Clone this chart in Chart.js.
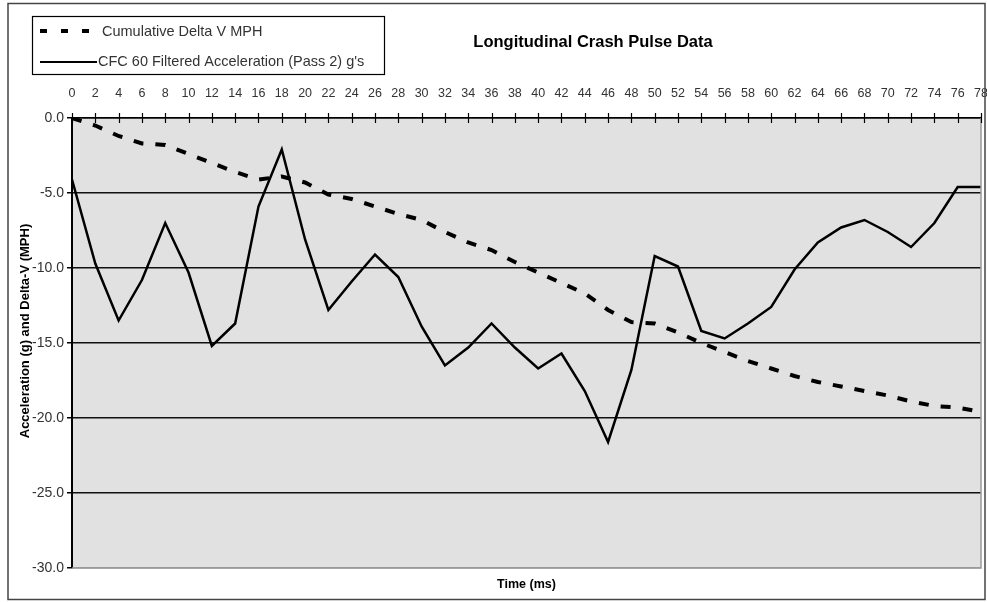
<!DOCTYPE html>
<html>
<head>
<meta charset="utf-8">
<title>Longitudinal Crash Pulse Data</title>
<script src="https://cdn.jsdelivr.net/npm/chart.js@4.4.1/dist/chart.umd.min.js"></script>
<style>
  html, body { margin: 0; padding: 0; background: #fff; }
  #wrap { width: 987px; height: 602px; position: relative; }
</style>
</head>
<body>
<div id="wrap"><canvas id="crashChart" width="987" height="602"></canvas></div>
<script>
// Time axis (ms), one sample every 2 ms
const timeLabels = ['0','2','4','6','8','10','12','14','16','18','20','22','24','26','28','30','32','34','36','38',
  '40','42','44','46','48','50','52','54','56','58','60','62','64','66','68','70','72','74','76','78'];

// Cumulative Delta V (MPH)
const deltaV = [0.0, -0.5, -1.2, -1.7, -1.8, -2.4, -3.0, -3.6, -4.1, -3.9, -4.3, -5.1, -5.4, -5.9, -6.4, -6.8, -7.6, -8.3, -8.8, -9.6,
  -10.3, -11.0, -11.7, -12.8, -13.6, -13.7, -14.3, -15.0, -15.6, -16.2, -16.7, -17.2, -17.6, -17.9, -18.2, -18.5, -18.9, -19.2, -19.3, -19.6];

// CFC 60 filtered acceleration, pass 2 (g)
const accel = [-4.1, -9.7, -13.5, -10.8, -7.0, -10.3, -15.2, -13.7, -5.9, -2.1, -8.1, -12.8, -10.9, -9.1, -10.6, -13.9, -16.5, -15.3, -13.7, -15.3,
  -16.7, -15.7, -18.2, -21.6, -16.8, -9.2, -9.9, -14.2, -14.7, -13.7, -12.6, -10.1, -8.3, -7.3, -6.8, -7.6, -8.6, -7.0, -4.6, -4.6];

const yTicks = [0, -5, -10, -15, -20, -25, -30];

const seriesNames = ['Cumulative Delta V MPH', 'CFC 60 Filtered Acceleration (Pass 2) g\'s'];
const chartTitle = 'Longitudinal Crash Pulse Data';
const xTitle = 'Time (ms)';
const yTitle = 'Acceleration (g) and Delta-V (MPH)';

const FONT = '"Liberation Sans", Arial, sans-serif';

// background, borders, legend box and titles drawn around the chart
const decorPlugin = {
  id: 'decor',
  beforeDraw(chart) {
    const ctx = chart.ctx;
    const a = chart.chartArea;
    ctx.save();
    ctx.fillStyle = '#ffffff';
    ctx.fillRect(0, 0, chart.width, chart.height);
    ctx.fillStyle = '#e1e1e1';
    ctx.fillRect(a.left, a.top, a.right - a.left, a.bottom - a.top);
    ctx.restore();
  },
  afterDraw(chart) {
    const ctx = chart.ctx;
    const a = chart.chartArea;
    const xs = chart.scales.x;
    ctx.save();

    // right and bottom edge of plot
    ctx.strokeStyle = '#9a9a9a';
    ctx.lineWidth = 1.5;
    ctx.beginPath();
    ctx.moveTo(a.right, a.top);
    ctx.lineTo(a.right, a.bottom);
    ctx.lineTo(a.left, a.bottom);
    ctx.stroke();

    // cross tick marks on the top axis
    ctx.strokeStyle = '#000';
    ctx.lineWidth = 1.2;
    ctx.beginPath();
    xs.ticks.forEach((t, i) => {
      const px = Math.round(xs.getPixelForTick(i)) + 0.5;
      ctx.moveTo(px, a.top - 5);
      ctx.lineTo(px, a.top + 5);
    });
    ctx.stroke();

    // outer frame
    ctx.strokeStyle = '#444';
    ctx.lineWidth = 1.5;
    ctx.strokeRect(8, 3.5, 977, 596);

    // legend box
    ctx.strokeStyle = '#000';
    ctx.lineWidth = 1.2;
    ctx.strokeRect(32.5, 16.5, 352, 58);
    ctx.lineCap = 'butt';
    ctx.lineWidth = 4;
    ctx.setLineDash([7, 14]);
    ctx.beginPath();
    ctx.moveTo(40, 31);
    ctx.lineTo(96, 31);
    ctx.stroke();
    ctx.setLineDash([]);
    ctx.lineWidth = 2;
    ctx.beginPath();
    ctx.moveTo(40, 62);
    ctx.lineTo(97, 62);
    ctx.stroke();

    ctx.fillStyle = '#333';
    ctx.font = '14.5px ' + FONT;
    ctx.textBaseline = 'middle';
    ctx.textAlign = 'left';
    ctx.fillText(seriesNames[0], 102, 32);
    ctx.fillText(seriesNames[1], 98, 62);

    // chart title
    ctx.fillStyle = '#000';
    ctx.font = 'bold 16.5px ' + FONT;
    ctx.textAlign = 'center';
    ctx.fillText(chartTitle, 593, 42);

    // axis titles
    ctx.font = 'bold 12.5px ' + FONT;
    ctx.fillText(xTitle, (a.left + a.right) / 2, 585);
    ctx.save();
    ctx.translate(25, 331);
    ctx.rotate(-Math.PI / 2);
    ctx.font = 'bold 13px ' + FONT;
    ctx.fillText(yTitle, 0, 0);
    ctx.restore();

    ctx.restore();
  }
};

const ctx = document.getElementById('crashChart').getContext('2d');
new Chart(ctx, {
  type: 'line',
  data: {
    labels: timeLabels,
    datasets: [
      {
        label: seriesNames[0],
        data: deltaV,
        borderColor: '#000',
        borderWidth: 4,
        borderDash: [10, 12],
        pointRadius: 0,
        tension: 0,
        fill: false
      },
      {
        label: seriesNames[1],
        data: accel,
        borderColor: '#000',
        borderWidth: 2.5,
        pointRadius: 0,
        tension: 0,
        fill: false
      }
    ]
  },
  options: {
    responsive: false,
    animation: false,
    layout: { padding: { top: 0, left: 0, right: 6, bottom: 34 } },
    plugins: {
      legend: { display: false },
      title: { display: false },
      tooltip: { enabled: false }
    },
    scales: {
      x: {
        type: 'category',
        position: 'top',
        offset: false,
        afterFit(scale) {
          scale.height = 118;
          scale.paddingLeft = 0;
          scale.paddingRight = 0;
        },
        grid: { display: true, drawOnChartArea: false, drawTicks: false, color: '#000' },
        border: { display: true, color: '#000', width: 1.5 },
        ticks: {
          autoSkip: false,
          maxRotation: 0,
          padding: 17,
          color: '#333',
          font: { family: FONT, size: 12.5 }
        }
      },
      y: {
        min: -30,
        max: 0,
        afterFit(scale) { scale.width = 72; },
        afterBuildTicks(scale) { scale.ticks = yTicks.map(v => ({ value: v })); },
        grid: {
          color: c => (c.tick && c.tick.value === -30 ? '#9a9a9a' : '#111'),
          lineWidth: 1.5,
          tickLength: 5,
          tickColor: '#000'
        },
        border: { display: true, color: '#000', width: 2 },
        ticks: {
          padding: 3,
          color: '#333',
          font: { family: FONT, size: 14 },
          callback: v => Number(v).toFixed(1)
        }
      }
    }
  },
  plugins: [decorPlugin]
});
</script>
</body>
</html>
